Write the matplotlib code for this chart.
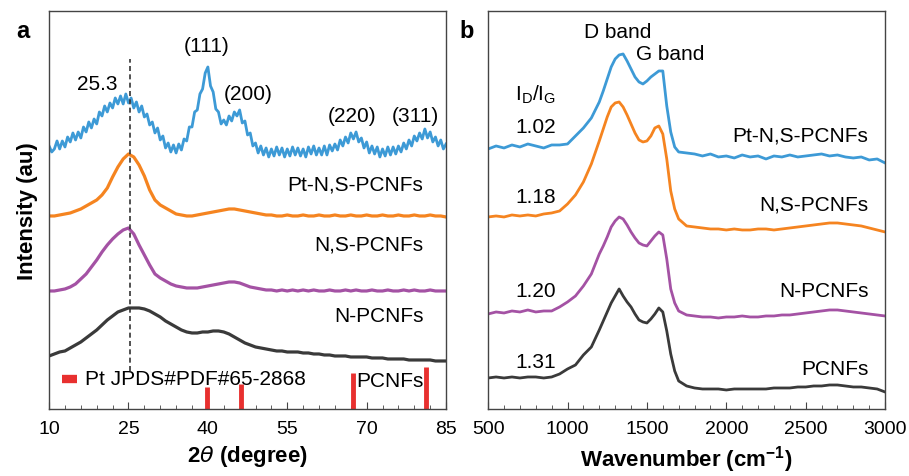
import matplotlib

matplotlib.use("Agg")

import matplotlib.pyplot as plt
import numpy as np

plt.rcParams["font.family"] = ["Liberation Sans", "DejaVu Sans"]
plt.rcParams["mathtext.fontset"] = "custom"
plt.rcParams["mathtext.rm"] = "Liberation Sans"
plt.rcParams["mathtext.it"] = "DejaVu Sans:italic"
plt.rcParams["mathtext.bf"] = "Liberation Sans:bold"

BLUE = "#3d9ad6"
ORANGE = "#f58420"
PURPLE = "#a452a4"
DARK = "#3a3a3a"
RED = "#e8302f"

# --- panel a: XRD, 2theta 10..85 ---
xrd_blue = [  # 0.5 degree steps
    263, 257, 260, 268, 260, 268, 262, 272, 267, 276, 269, 277, 271, 282, 277, 287, 281, 290, 285, 297,
    293, 303, 297, 306, 301, 311, 305, 313, 305, 315, 306, 311, 301, 307, 297, 303, 292, 295, 284, 287,
    276, 281, 269, 273, 261, 266, 257, 264, 256, 265, 259, 270, 268, 282, 282, 297, 299, 315, 320, 336,
    342, 323, 317, 300, 297, 285, 289, 284, 293, 288, 297, 293, 299, 286, 288, 274, 276, 263, 266, 256,
    263, 254, 261, 252, 260, 253, 262, 254, 261, 252, 260, 253, 262, 254, 261, 253, 260, 252, 262, 255,
    263, 254, 261, 254, 263, 254, 264, 258, 265, 259, 269, 263, 272, 266, 276, 270, 277, 267, 271, 261,
    267, 256, 263, 255, 262, 252, 260, 253, 262, 254, 262, 255, 263, 257, 266, 260, 269, 263, 273, 268,
    276, 270, 280, 271, 277, 267, 272, 263, 269, 260, 265,
]
xrd_orange = [  # 1 degree steps
    193, 193, 194, 195, 196, 198, 200, 203, 206, 209,
    214, 221, 232, 242, 250, 255, 252, 244, 233, 219,
    209, 204, 201, 198, 195, 194, 193, 193, 194, 195,
    196, 197, 198, 199, 200, 200, 199, 198, 197, 196,
    195, 194, 194, 193, 193, 194, 193, 193, 194, 193,
    193, 194, 193, 193, 194, 193, 193, 194, 193, 193,
    194, 193, 193, 194, 193, 193, 194, 193, 193, 194,
    193, 193, 194, 193, 193, 192,
]
xrd_purple = [
    118, 118, 119, 120, 122, 125, 130, 135, 142, 149,
    157, 164, 170, 175, 179, 181, 175, 164, 154, 144,
    135, 131, 128, 125, 123, 122, 121, 121, 121, 122,
    123, 124, 125, 126, 127, 127, 126, 124, 122, 121,
    120, 119, 119, 118, 119, 118, 119, 118, 119, 118,
    119, 118, 118, 119, 118, 118, 119, 118, 119, 118,
    118, 119, 118, 118, 119, 118, 118, 119, 118, 119,
    118, 118, 119, 118, 118, 118,
]
xrd_black = [
    53, 55, 57, 58, 61, 64, 67, 71, 75, 79,
    84, 89, 93, 97, 99, 101, 101, 101, 100, 98,
    95, 92, 88, 85, 82, 79, 77, 76, 76, 77,
    77, 78, 78, 77, 75, 72, 69, 66, 64, 62,
    61, 60, 59, 58, 58, 57, 57, 57, 56, 56,
    55, 55, 54, 54, 53, 53, 53, 52, 52, 52,
    52, 51, 51, 51, 50, 50, 50, 50, 49, 49,
    49, 49, 49, 48, 48, 48,
]
pt_ref_pos = [39.8, 46.2, 67.5, 81.3]
pt_ref_height = [22, 25, 36, 42]

# --- panel b: Raman ---
# 50 cm-1 steps, 25 cm-1 steps across the D/G bands
raman_wn = np.concatenate([np.arange(500, 1201, 50), np.arange(1225, 1701, 25), np.arange(1750, 3001, 50)])
raman_blue = [
    260, 263, 261, 264, 262, 265, 263, 261, 264, 264, 265, 273, 281, 291, 307,
    318, 330, 342, 350, 354, 355, 348, 340, 332, 327, 325, 328, 332, 335, 338, 338, 303, 277, 262, 257,
    256, 255, 253, 255, 252, 253, 251, 254, 252, 253, 250, 253, 252,
    254, 252, 253, 254, 255, 253, 254, 252, 251, 252, 249, 250, 246,
]
raman_orange = [
    192, 193, 192, 194, 193, 194, 193, 195, 196, 198, 205, 214, 227, 245, 268,
    280, 292, 302, 306, 307, 302, 294, 285, 276, 269, 267, 268, 273, 281, 283, 275, 250, 218, 200, 190,
    183, 182, 181, 180, 180, 179, 180, 179, 179, 180, 180, 179, 180,
    181, 182, 183, 184, 185, 186, 186, 185, 184, 183, 181, 179, 177,
]
raman_purple = [
    95, 97, 96, 98, 97, 99, 97, 98, 98, 102, 107, 113, 123, 135, 155,
    163, 172, 182, 188, 192, 190, 184, 177, 171, 166, 164, 163, 168, 173, 177, 174, 150, 120, 106, 98,
    94, 93, 92, 92, 91, 92, 92, 93, 92, 92, 93, 93, 94,
    94, 95, 96, 97, 98, 99, 99, 98, 97, 96, 95, 94, 93,
]
raman_black = [
    31, 32, 31, 32, 31, 32, 32, 31, 32, 35, 40, 44, 54, 62, 79,
    88, 97, 106, 113, 120, 113, 107, 102, 95, 89, 87, 86, 90, 95, 101, 97, 78, 55, 38, 28,
    23, 21, 20, 20, 20, 19, 20, 20, 20, 20, 20, 21, 21,
    21, 22, 22, 23, 23, 24, 24, 23, 22, 22, 21, 20, 17,
]
id_ig = ["1.02", "1.18", "1.20", "1.31"]
samples = ["Pt-N,S-PCNFs", "N,S-PCNFs", "N-PCNFs", "PCNFs"]

fig = plt.figure(figsize=(9.09, 4.77), dpi=100)
ax_a = fig.add_axes([0.054, 0.1405, 0.4367, 0.8344])
ax_b = fig.add_axes([0.537, 0.1405, 0.4367, 0.8344])

for ax in (ax_a, ax_b):
    for side in ax.spines.values():
        side.set_linewidth(1.0)
        side.set_color("#444444")
    ax.set_yticks([])
    ax.set_ylim(0, 398)
    ax.tick_params(axis="x", which="both", direction="in", labelsize=14, pad=8, color="#444444")
    ax.tick_params(axis="x", which="major", length=5)
    ax.tick_params(axis="x", which="minor", length=3)

# panel a
x_fine = np.linspace(10, 85, len(xrd_blue))
x_coarse = np.linspace(10, 85, len(xrd_orange))
ax_a.plot(x_fine, xrd_blue, color=BLUE, lw=2.0)
ax_a.plot(x_coarse, xrd_orange, color=ORANGE, lw=2.3)
ax_a.plot(x_coarse, xrd_purple, color=PURPLE, lw=2.3)
ax_a.plot(x_coarse, xrd_black, color=DARK, lw=2.3)
ax_a.vlines(25.3, 38, 350, colors="#333333", linestyles=(0, (3, 2)), lw=1.2)
ax_a.vlines(pt_ref_pos, 0, pt_ref_height, colors=RED, lw=3.5)
ax_a.plot([12.5, 15.3], [30, 30], color=RED, lw=6, solid_capstyle="butt")
ax_a.text(16.8, 30, "Pt JPDS#PDF#65-2868", fontsize=15, va="center")

ax_a.set_xlim(10, 85)
ax_a.set_xticks(np.arange(10, 86, 15))
ax_a.set_xticks(np.arange(10, 86, 3), minor=True)
ax_a.set_xlabel(r"2$\theta$ (degree)", fontsize=16, fontweight="bold", labelpad=4)
ax_a.set_ylabel("Intensity (au)", fontsize=16, fontweight="bold", labelpad=8)

ax_a.text(19.1, 325, "25.3", fontsize=15, ha="center", va="center")
for label, xp, yp in [("(111)", 39.7, 363), ("(200)", 47.6, 315), ("(220)", 67.3, 293), ("(311)", 79.2, 293)]:
    ax_a.text(xp, yp, label, fontsize=15, ha="center", va="center")
for name, yp in zip(samples, [225, 165, 93, 28]):
    ax_a.text(80.7, yp, name, fontsize=15, ha="right", va="center")

# panel b
ax_b.plot(raman_wn, raman_blue, color=BLUE, lw=2.0)
ax_b.plot(raman_wn, raman_orange, color=ORANGE, lw=2.0)
ax_b.plot(raman_wn, raman_purple, color=PURPLE, lw=2.0)
ax_b.plot(raman_wn, raman_black, color=DARK, lw=2.0)

ax_b.set_xlim(500, 3000)
ax_b.set_xticks(np.arange(500, 3001, 500))
ax_b.set_xticks(np.arange(500, 3001, 100), minor=True)
ax_b.set_xlabel(r"Wavenumber (cm$^{\mathbf{-1}}$)", fontsize=16, fontweight="bold", labelpad=4)

ax_b.text(1319, 377, "D band", fontsize=15, ha="center", va="center")
ax_b.text(1646, 355, "G band", fontsize=15, ha="center", va="center")
ax_b.text(796, 315, r"I$_\mathregular{D}$/I$_\mathregular{G}$", fontsize=15, ha="center", va="center")
for val, yp in zip(id_ig, [282, 212, 118, 47]):
    ax_b.text(800, yp, val, fontsize=15, ha="center", va="center")
for name, yp in zip(samples, [274, 205, 118, 40]):
    ax_b.text(2895, yp, name, fontsize=15, ha="right", va="center")

fig.text(0.025, 0.935, "a", fontsize=17, fontweight="bold", ha="center", va="center")
fig.text(0.513, 0.935, "b", fontsize=17, fontweight="bold", ha="center", va="center")

fig.savefig("out.png", dpi=100)
